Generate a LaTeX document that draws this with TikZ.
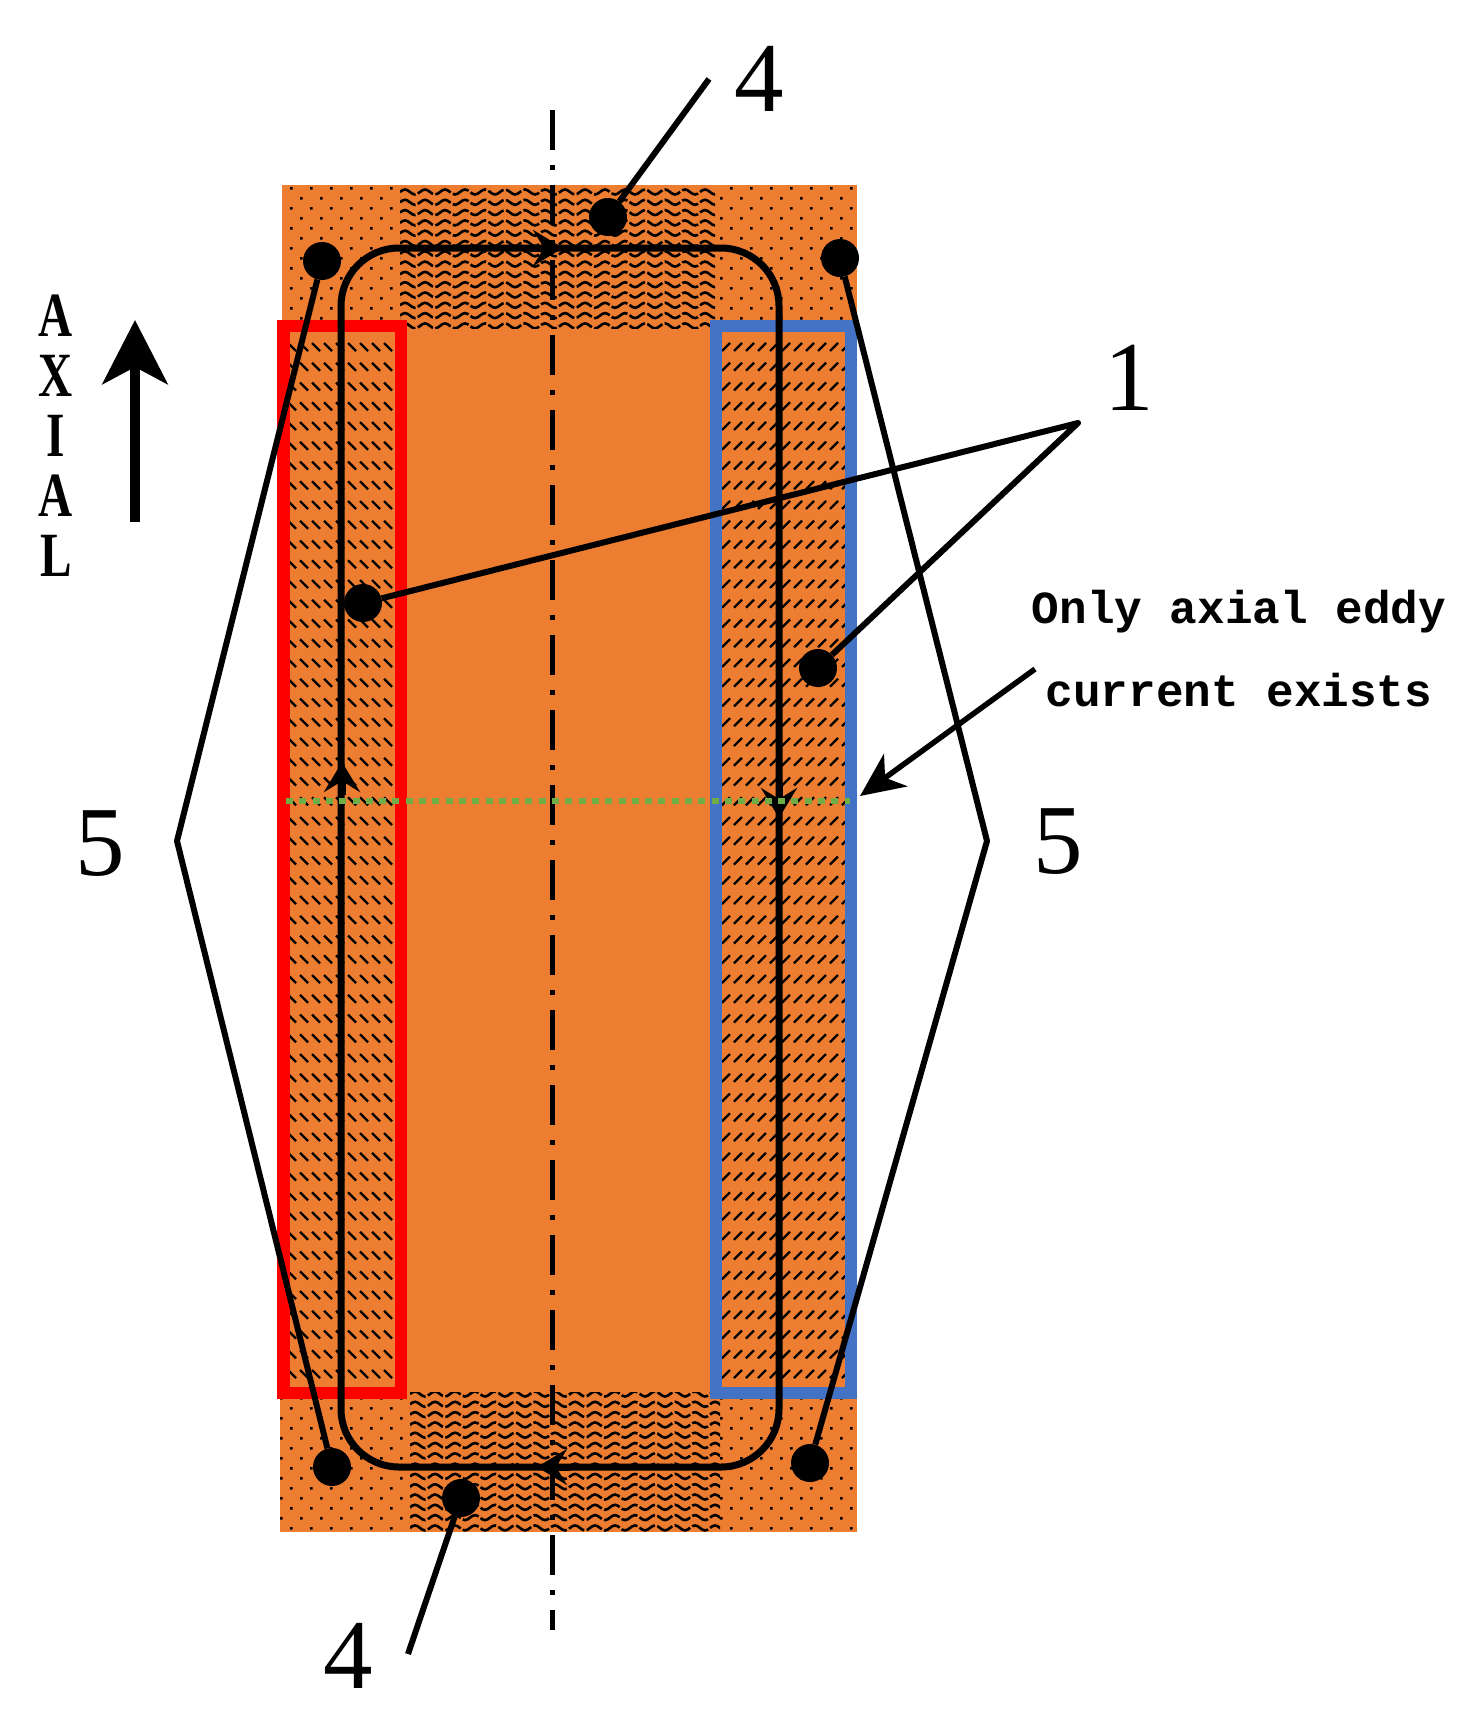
\documentclass[tikz,border=0pt]{standalone}
\usepackage{fontspec}
\setmainfont{Liberation Serif}
\newfontfamily\slabfont[Ligatures=NoCommon]{Liberation Mono}
\newfontfamily\axialfont[FakeStretch=0.75]{Liberation Serif}
\usetikzlibrary{arrows.meta,positioning}

\definecolor{coreorange}{HTML}{ED7D31}
\definecolor{coilblue}{HTML}{4472C4}
\definecolor{midgreen}{HTML}{70AD47}

\tikzset{
  blob/.style = {circle, fill=black, draw=none, inner sep=0pt, minimum size=38pt},
  leader/.style = {draw=black, line width=6pt, line join=round},
  digit/.style = {inner sep=0pt, font=\fontsize{99}{99}\selectfont},
  note/.style = {inner sep=0pt, font=\slabfont\bfseries\fontsize{46}{46}\selectfont},
  axialtext/.style = {inner sep=0pt, font=\axialfont\bfseries\fontsize{63}{63}\selectfont},
  looptip/.style = {line width=7pt, -{Stealth[length=30pt,width=36pt,inset=11pt]}}
}

\begin{document}
\begin{tikzpicture}[x=1pt, y=-1pt]
\useasboundingbox (0,0) rectangle (1459,1713);

\fill[coreorange] (282,185) rectangle (857,325);
\fill[coreorange] (280,1390) rectangle (857,1532);
\fill[coreorange] (282,320) rectangle (857,1399);

% dots in the corners
\begin{scope}
\clip (285,185) rectangle (400,320) (715,185) rectangle (857,320)
      (280,1399) rectangle (410,1532) (720,1399) rectangle (857,1532);
\foreach \row [evaluate=\row as \ypos using 188+20*\row] in {0,...,6} {
  \fill \foreach \col in {0,...,28} { (291+20*\col-1,\ypos-1) rectangle ++(2.6,2.6) };
  \fill \foreach \col in {0,...,28} { (281+20*\col-1,\ypos+9) rectangle ++(2.6,2.6) };
}
\foreach \row [evaluate=\row as \ypos using 1388+20*\row] in {0,...,7} {
  \fill \foreach \col in {0,...,28} { (291+20*\col-1,\ypos-1) rectangle ++(2.6,2.6) };
  \fill \foreach \col in {0,...,28} { (281+20*\col-1,\ypos+9) rectangle ++(2.6,2.6) };
}
\end{scope}

% waves at both ends
\begin{scope}
\clip (400,186) rectangle (715,328);
\foreach \ypos in {192,202.3,...,326} {
  \draw[line width=2.6pt, dash pattern=on 17.5pt off 2.5pt] (400,\ypos)
    \foreach \col in {0,...,15} { sin ++(5,-2.5) cos ++(5,2.5) sin ++(5,2.5) cos ++(5,-2.5) };
}
\end{scope}
\begin{scope}
\clip (410,1392) rectangle (720,1532);
\foreach \ypos in {1394,1404.3,...,1532} {
  \draw[line width=2.6pt, dash pattern=on 17.5pt off 2.5pt] (410,\ypos)
    \foreach \col in {0,...,15} { sin ++(5,-2.5) cos ++(5,2.5) sin ++(5,2.5) cos ++(5,-2.5) };
}
\end{scope}

% hatching of the two side bands
\begin{scope}
\clip (290,332) rectangle (395,1387);
\foreach \row [evaluate=\row as \ypos using 343+19.75*\row] in {0,...,52} {
  \draw[line width=2.4pt] \foreach \col in {0,...,9} { (288+12*\col,\ypos) -- ++(8,8) };
}
\end{scope}
\begin{scope}
\clip (722,332) rectangle (845,1387);
\foreach \row [evaluate=\row as \ypos using 343+19.75*\row] in {0,...,52} {
  \draw[line width=2.4pt] \foreach \col in {0,...,10} { (722+12*\col,\ypos+8) -- ++(8,-8) };
}
\end{scope}

\draw[red, line width=12.5pt] (283.5,326) rectangle (401,1393);
\draw[coilblue, line width=12.5pt] (716,326) rectangle (851,1393);

\coordinate (axistop) at (552.5,110);
\coordinate (axisbottom) at (552.5,1630);
\draw[line width=5pt, dash pattern=on 40pt off 15pt on 5pt off 15pt] (axistop) -- (axisbottom);

% eddy current loop
\draw[line width=7pt, rounded corners=58pt] (341,800) -- (341,248) -- (779,248) -- (779,1467) -- (341,1467) -- cycle;
\coordinate (toptail) at (530,248);
\coordinate (tophead) at (563,248);
\coordinate (righttail) at (779,785);
\coordinate (righthead) at (779,818);
\coordinate (bottomtail) at (570,1467);
\coordinate (bottomhead) at (537,1467);
\coordinate (lefttail) at (342,795);
\coordinate (lefthead) at (342,762);
\draw[looptip] (toptail) -- (tophead);
\draw[looptip] (righttail) -- (righthead);
\draw[looptip] (bottomtail) -- (bottomhead);
\draw[looptip] (lefttail) -- (lefthead);

\coordinate (midleft) at (286,801);
\coordinate (midright) at (850,801);
\draw[midgreen, line width=6.5pt, dash pattern=on 7pt off 6.3pt] (midleft) -- (midright);

\node[blob] (dottop) at (608,217) {};
\node[blob] (dotbottom) at (461,1498) {};
\node[blob] (cornerTL) at (322,261) {};
\node[blob] (cornerTR) at (840,258) {};
\node[blob] (cornerBL) at (332,1467) {};
\node[blob] (cornerBR) at (810,1463) {};
\node[blob] (coilL) at (363,603) {};
\node[blob] (coilR) at (818,668) {};

\coordinate (fourtop) at (709,79);
\coordinate (fourbottom) at (408,1654);
\coordinate (oneapex) at (1078,423);
\coordinate (fiveL) at (177,841);
\coordinate (fiveR) at (987,841);
\draw[leader] (fourtop) -- (dottop);
\draw[leader] (fourbottom) -- (dotbottom);
\draw[leader] (coilL) -- (oneapex) -- (coilR);
\draw[leader] (cornerTL) -- (fiveL) -- (cornerBL);
\draw[leader] (cornerTR) -- (fiveR) -- (cornerBR);

\node[digit] (labelfourtop) at (759,79) {4};
\node[digit] (labelfourbottom) at (348,1656) {4};
\node[digit] (labelone) at (1129,378) {1};
\node[digit] (labelfiveL) at (100,844) {5};
\node[digit] (labelfiveR) at (1058,842) {5};

\node[note] (noteone) at (1239,612) {Only axial eddy};
\node[note, below=78pt of noteone.center, anchor=center] (notetwo) {current exists};
\coordinate (notetail) at (1035,669);
\coordinate (notehead) at (860,796);
\draw[line width=5.5pt, -{Stealth[length=44pt,width=40pt,inset=13pt]}] (notetail) -- (notehead);

\node[axialtext] (letterA) at (56,316) {A};
\node[axialtext, below=60pt of letterA.center, anchor=center] (letterX) {X};
\node[axialtext, below=60pt of letterX.center, anchor=center] (letterI) {I};
\node[axialtext, below=60pt of letterI.center, anchor=center] (letterAb) {A};
\node[axialtext, below=60pt of letterAb.center, anchor=center] (letterL) {L};

\coordinate (axialtail) at (135,522);
\coordinate (axialhead) at (135,320);
\draw[line width=10pt, -{Stealth[length=64pt,width=65pt,inset=17pt]}] (axialtail) -- (axialhead);
\end{tikzpicture}
\end{document}
